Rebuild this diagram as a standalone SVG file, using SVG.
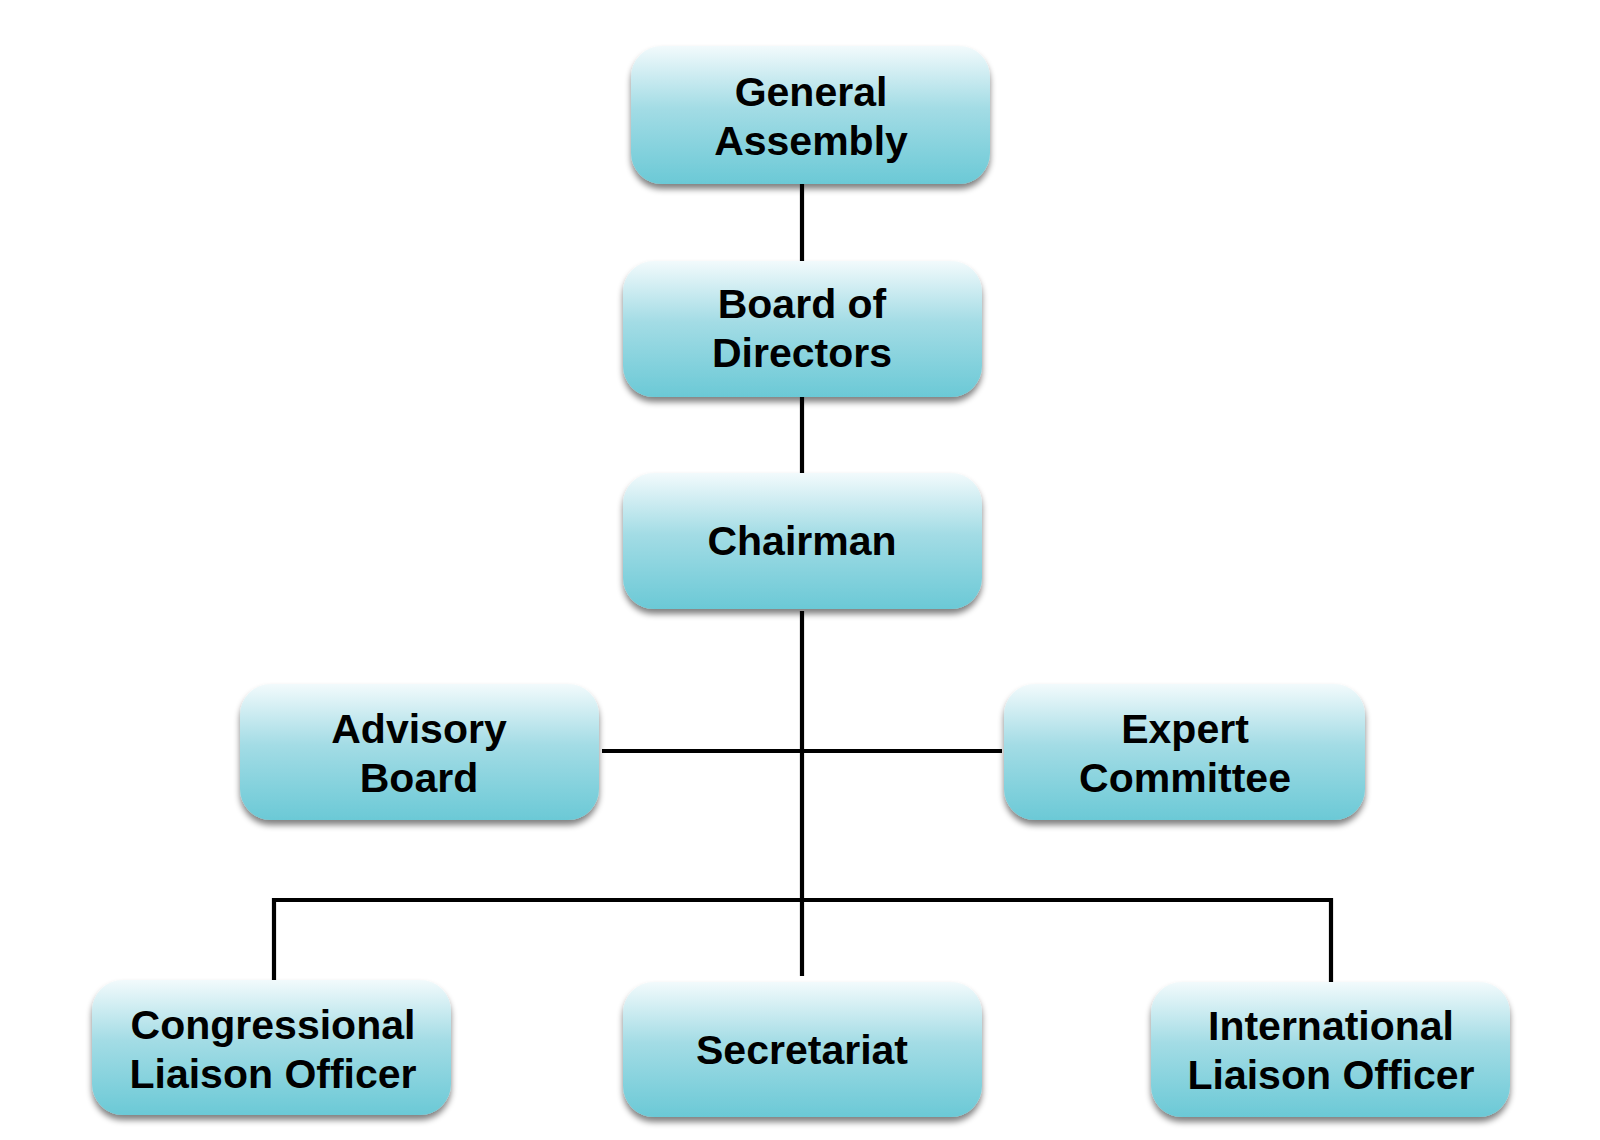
<svg xmlns="http://www.w3.org/2000/svg" width="1600" height="1140" viewBox="0 0 1600 1140">
<defs>
<linearGradient id="g" x1="0" y1="0" x2="0" y2="1">
<stop offset="0" stop-color="#f2fafc"/>
<stop offset="0.45" stop-color="#a3dce5"/>
<stop offset="1" stop-color="#6bc9d6"/>
</linearGradient>
<filter id="sh" x="-10%" y="-10%" width="120%" height="130%">
<feGaussianBlur in="SourceAlpha" stdDeviation="3"/>
<feOffset dx="0" dy="5" result="b"/>
<feComponentTransfer><feFuncA type="linear" slope="0.5"/></feComponentTransfer>
<feMerge><feMergeNode/><feMergeNode in="SourceGraphic"/></feMerge>
</filter>
</defs>
<style>
.box{fill:url(#g);filter:url(#sh)}
.t{font-family:"Liberation Sans",Arial,sans-serif;font-weight:bold;font-size:41px;fill:#000;text-anchor:middle}
.c{stroke:#000;stroke-width:4.2;fill:none}
</style>
<rect width="1600" height="1140" fill="#fff"/>
<g id="connectors">
<line class="c" x1="802" y1="183" x2="802" y2="263"/>
<line class="c" x1="802" y1="395" x2="802" y2="476"/>
<line class="c" x1="802" y1="611" x2="802" y2="976"/>
<line class="c" x1="602" y1="751" x2="1002" y2="751"/>
<polyline class="c" points="274,981 274,900 1331,900 1331,982"/>
</g>
<g id="general-assembly">
<rect class="box" x="631" y="46" width="359" height="138" rx="31"/>
<text class="t" x="811" y="106">General</text>
<text class="t" x="811" y="155">Assembly</text>
</g>
<g id="board-of-directors">
<rect class="box" x="623" y="261" width="359" height="136" rx="31"/>
<text class="t" x="802" y="318">Board of</text>
<text class="t" x="802" y="367">Directors</text>
</g>
<g id="chairman">
<rect class="box" x="623" y="473" width="359" height="136" rx="31"/>
<text class="t" x="802" y="555">Chairman</text>
</g>
<g id="advisory-board">
<rect class="box" x="240" y="684" width="359" height="136" rx="31"/>
<text class="t" x="419" y="743">Advisory</text>
<text class="t" x="419" y="792">Board</text>
</g>
<g id="expert-committee">
<rect class="box" x="1004" y="684" width="361" height="136" rx="31"/>
<text class="t" x="1185" y="743">Expert</text>
<text class="t" x="1185" y="792">Committee</text>
</g>
<g id="congressional-liaison-officer">
<rect class="box" x="92" y="980" width="359" height="135" rx="31"/>
<text class="t" x="273" y="1039">Congressional</text>
<text class="t" x="273" y="1088">Liaison Officer</text>
</g>
<g id="secretariat">
<rect class="box" x="623" y="982" width="359" height="135" rx="31"/>
<text class="t" x="802" y="1064">Secretariat</text>
</g>
<g id="international-liaison-officer">
<rect class="box" x="1151" y="982" width="359" height="135" rx="31"/>
<text class="t" x="1331" y="1040">International</text>
<text class="t" x="1331" y="1089">Liaison Officer</text>
</g>
</svg>
